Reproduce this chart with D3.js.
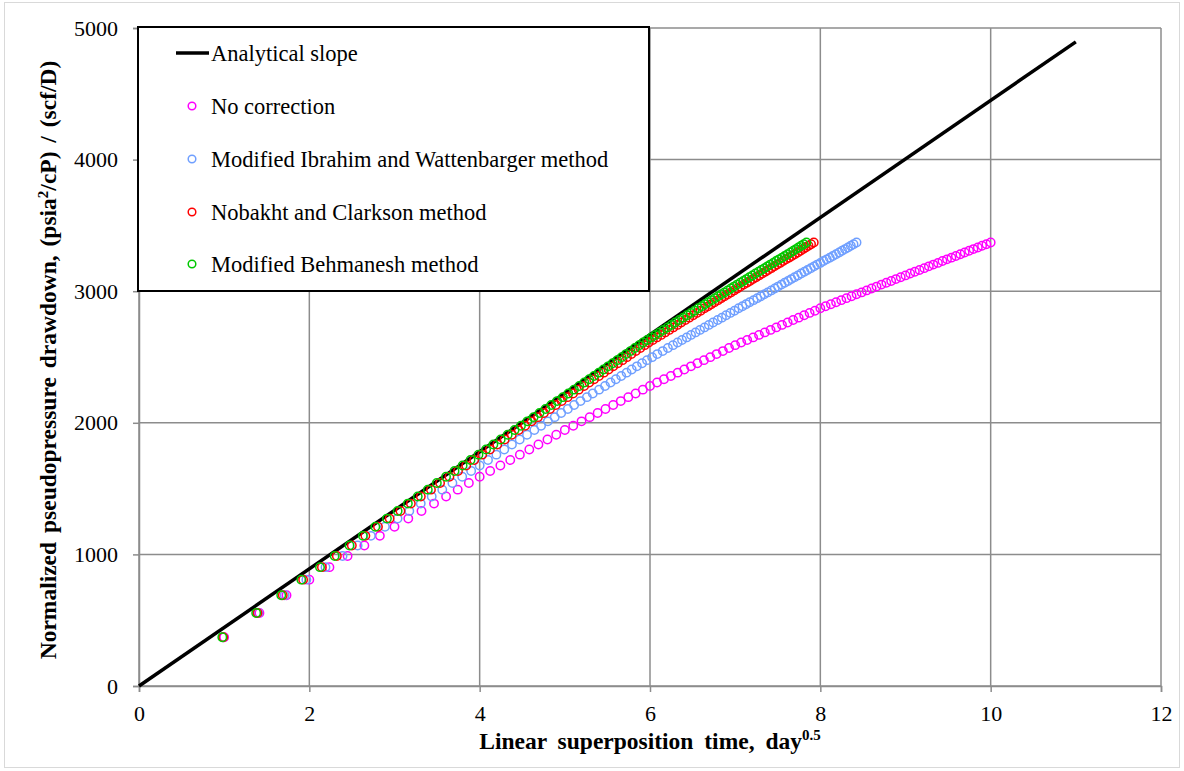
<!DOCTYPE html>
<html>
<head>
<meta charset="utf-8">
<script src="https://cdn.jsdelivr.net/npm/d3@7"></script>
<style>
  body { margin: 0; background: #fff; }
  svg text { font-family: "Liberation Serif", "Times New Roman", "DejaVu Serif", serif; }
</style>
</head>
<body>
<svg id="chart"></svg>
<script>
// Constants
const width = 1184;
const height = 771;
const margin = { top: 28, right: 23, bottom: 85, left: 139 };
const serif = "'Liberation Serif', 'Times New Roman', serif";

// Axis ticks
const xTicks = [0, 2, 4, 6, 8, 10, 12];
const yTicks = [0, 1000, 2000, 3000, 4000, 5000];

// Analytical slope line
const analyticX = [0, 11];
const analyticY = [0, 4895];

// Normalized pseudopressure drawdown, shared by every series
const drawdown = [
  370, 555, 690, 808, 903, 988, 1068, 1141, 1210, 1272,
  1330, 1386, 1440, 1492, 1542, 1590, 1634, 1676, 1717, 1758,
  1797, 1835, 1873, 1909, 1945, 1978, 2011, 2043, 2074, 2105,
  2135, 2165, 2195, 2223, 2252, 2280, 2306, 2331, 2356, 2381,
  2405, 2429, 2453, 2476, 2499, 2522, 2545, 2568, 2590, 2610,
  2629, 2649, 2668, 2687, 2706, 2725, 2744, 2762, 2781, 2799,
  2817, 2835, 2852, 2870, 2886, 2901, 2916, 2932, 2947, 2962,
  2977, 2991, 3006, 3021, 3035, 3050, 3064, 3078, 3092, 3106,
  3120, 3134, 3148, 3161, 3175, 3189, 3202, 3215, 3229, 3242,
  3255, 3268, 3281, 3294, 3307, 3320, 3332, 3345, 3357, 3370
];

// Linear superposition time for each correction
const noCorrectionX = [
  1, 1.414, 1.732, 2, 2.236, 2.449, 2.646, 2.828, 3, 3.162,
  3.317, 3.464, 3.606, 3.742, 3.873, 4, 4.123, 4.243, 4.359, 4.472,
  4.583, 4.690, 4.796, 4.899, 5, 5.099, 5.196, 5.292, 5.385, 5.477,
  5.568, 5.657, 5.745, 5.831, 5.916, 6, 6.083, 6.164, 6.245, 6.325,
  6.403, 6.481, 6.557, 6.633, 6.708, 6.782, 6.856, 6.928, 7, 7.071,
  7.141, 7.211, 7.280, 7.348, 7.416, 7.483, 7.550, 7.616, 7.681, 7.746,
  7.810, 7.874, 7.937, 8, 8.062, 8.124, 8.185, 8.246, 8.307, 8.367,
  8.426, 8.485, 8.544, 8.602, 8.660, 8.718, 8.775, 8.832, 8.888, 8.944,
  9, 9.055, 9.110, 9.165, 9.220, 9.274, 9.327, 9.381, 9.434, 9.487,
  9.539, 9.592, 9.644, 9.695, 9.747, 9.798, 9.849, 9.899, 9.950, 10
];

const ibrahimX = [
  0.990, 1.400, 1.710, 1.965, 2.190, 2.390, 2.567, 2.723, 2.888, 3.036,
  3.174, 3.308, 3.437, 3.561, 3.680, 3.795, 3.900, 4.000, 4.098, 4.196,
  4.289, 4.379, 4.470, 4.556, 4.642, 4.721, 4.801, 4.881, 4.957, 5.035,
  5.109, 5.184, 5.259, 5.328, 5.402, 5.472, 5.537, 5.599, 5.662, 5.725,
  5.785, 5.846, 5.907, 5.965, 6.025, 6.086, 6.149, 6.210, 6.270, 6.324,
  6.376, 6.431, 6.482, 6.535, 6.587, 6.640, 6.691, 6.741, 6.795, 6.844,
  6.894, 6.943, 6.992, 7.041, 7.086, 7.128, 7.170, 7.216, 7.259, 7.301,
  7.342, 7.382, 7.424, 7.465, 7.503, 7.544, 7.582, 7.621, 7.659, 7.698,
  7.736, 7.775, 7.813, 7.850, 7.888, 7.927, 7.963, 8.000, 8.038, 8.075,
  8.111, 8.147, 8.184, 8.221, 8.255, 8.290, 8.324, 8.358, 8.390, 8.425
];

const nobakhtX = [
  0.989, 1.391, 1.688, 1.927, 2.148, 2.323, 2.499, 2.658, 2.806, 2.943,
  3.070, 3.192, 3.309, 3.428, 3.535, 3.645, 3.746, 3.842, 3.936, 4.030,
  4.120, 4.207, 4.294, 4.377, 4.459, 4.534, 4.610, 4.684, 4.755, 4.826,
  4.894, 4.963, 5.032, 5.096, 5.163, 5.227, 5.287, 5.344, 5.401, 5.458,
  5.514, 5.569, 5.623, 5.677, 5.729, 5.782, 5.834, 5.887, 5.938, 5.985,
  6.033, 6.082, 6.131, 6.178, 6.226, 6.274, 6.322, 6.366, 6.415, 6.460,
  6.507, 6.551, 6.595, 6.640, 6.682, 6.719, 6.758, 6.799, 6.836, 6.875,
  6.914, 6.950, 6.988, 7.026, 7.062, 7.100, 7.138, 7.173, 7.209, 7.246,
  7.281, 7.318, 7.354, 7.387, 7.424, 7.460, 7.494, 7.528, 7.563, 7.598,
  7.632, 7.665, 7.700, 7.734, 7.767, 7.799, 7.828, 7.861, 7.891, 7.923
];

const behmaneshX = [
  0.978, 1.376, 1.670, 1.906, 2.125, 2.298, 2.472, 2.629, 2.775, 2.911,
  3.037, 3.157, 3.273, 3.391, 3.497, 3.605, 3.705, 3.800, 3.893, 3.986,
  4.075, 4.161, 4.247, 4.329, 4.410, 4.485, 4.560, 4.633, 4.703, 4.773,
  4.841, 4.909, 4.977, 5.041, 5.107, 5.170, 5.229, 5.286, 5.342, 5.399,
  5.454, 5.508, 5.562, 5.615, 5.667, 5.719, 5.771, 5.823, 5.873, 5.920,
  5.967, 6.016, 6.064, 6.111, 6.158, 6.206, 6.253, 6.297, 6.345, 6.390,
  6.436, 6.480, 6.523, 6.568, 6.609, 6.646, 6.684, 6.725, 6.762, 6.800,
  6.839, 6.874, 6.912, 6.950, 6.985, 7.023, 7.060, 7.095, 7.131, 7.167,
  7.202, 7.238, 7.274, 7.307, 7.343, 7.379, 7.412, 7.446, 7.481, 7.515,
  7.549, 7.582, 7.616, 7.650, 7.682, 7.714, 7.743, 7.775, 7.805, 7.837
];

const seriesNames = [
  "No correction",
  "Modified Ibrahim and Wattenbarger method",
  "Nobakht and Clarkson method",
  "Modified Behmanesh method"
];
const seriesColors = ["#ff00ff", "#6f9fff", "#ff0000", "#00c800"];
const seriesX = [noCorrectionX, ibrahimX, nobakhtX, behmaneshX];

// Create the SVG element
const svg = d3.select("#chart")
  .attr("width", width)
  .attr("height", height)
  .attr("font-family", serif);

// light frame round the picture
svg.append("rect")
  .attr("x", 4.5).attr("y", 2.5)
  .attr("width", 1175).attr("height", 765)
  .attr("fill", "#fff")
  .attr("stroke", "#d9d9d9");

const x = d3.scaleLinear().domain([0, 12]).range([margin.left, width - margin.right]);
const y = d3.scaleLinear().domain([0, 5000]).range([height - margin.bottom, margin.top]);

// Grid
const grid = svg.append("g").attr("stroke", "#8c8c8c").attr("stroke-width", 1.5);
grid.selectAll(".gx").data(xTicks).enter().append("line")
  .attr("x1", (d) => x(d)).attr("x2", (d) => x(d))
  .attr("y1", y(0)).attr("y2", y(5000));
grid.selectAll(".gy").data(yTicks).enter().append("line")
  .attr("x1", x(0)).attr("x2", x(12))
  .attr("y1", (d) => y(d)).attr("y2", (d) => y(d));

// Axes
const xAxis = svg.append("g")
  .attr("transform", `translate(0,${y(0)})`)
  .call(d3.axisBottom(x).tickValues(xTicks).tickSize(6).tickPadding(13).tickFormat(d3.format("d")));
const yAxis = svg.append("g")
  .attr("transform", `translate(${x(0)},0)`)
  .call(d3.axisLeft(y).tickValues(yTicks).tickSize(6).tickPadding(15).tickFormat(d3.format("d")));

[xAxis, yAxis].forEach((a) => {
  a.attr("font-family", serif);
  a.select(".domain").attr("stroke", "#8c8c8c").attr("stroke-width", 1.5);
  a.selectAll(".tick line").attr("stroke", "#8c8c8c").attr("stroke-width", 1.5);
  a.selectAll("text")
    .attr("fill", "#000")
    .style("font-size", "22px");
});

// Analytical line
const line = d3.line().x((d) => x(d[0])).y((d) => y(d[1]));
svg.append("path")
  .datum(d3.zip(analyticX, analyticY))
  .attr("d", line)
  .attr("fill", "none")
  .attr("stroke", "#000")
  .attr("stroke-width", 3.5);

// Points
seriesX.forEach((xs, s) => {
  svg.append("g").selectAll("circle")
    .data(d3.zip(xs, drawdown))
    .enter().append("circle")
    .attr("cx", (d) => x(d[0]))
    .attr("cy", (d) => y(d[1]))
    .attr("r", 4.2)
    .attr("fill", "none")
    .attr("stroke", seriesColors[s])
    .attr("stroke-width", 1.5);
});

// Legend
const legend = svg.append("g");
legend.append("rect")
  .attr("x", 138).attr("y", 27)
  .attr("width", 511).attr("height", 264)
  .attr("fill", "#fff")
  .attr("stroke", "#000")
  .attr("stroke-width", 2);

const legendRows = [53, 106, 159, 212, 264];
legend.append("line")
  .attr("x1", 176).attr("x2", 209)
  .attr("y1", legendRows[0]).attr("y2", legendRows[0])
  .attr("stroke", "#000").attr("stroke-width", 3.5);
legend.append("text")
  .attr("x", 211).attr("y", legendRows[0] + 7.5)
  .style("font-size", "22.5px")
  .text("Analytical slope");

seriesNames.forEach((name, s) => {
  const yy = legendRows[s + 1];
  legend.append("circle")
    .attr("cx", 192).attr("cy", yy)
    .attr("r", 3.8)
    .attr("fill", "none")
    .attr("stroke", seriesColors[s])
    .attr("stroke-width", 1.5);
  legend.append("text")
    .attr("x", 211).attr("y", yy + 7.5)
    .style("font-size", "22.5px")
    .text(name);
});

// Axis titles
const xTitle = svg.append("text")
  .attr("x", 650)
  .attr("y", 749)
  .attr("text-anchor", "middle")
  .style("font-size", "23.5px")
  .style("font-weight", "bold")
  .style("word-spacing", "5px");
xTitle.append("tspan").text("Linear superposition time, day");
xTitle.append("tspan").attr("dy", -9).style("font-size", "15px").text("0.5");

const yTitle = svg.append("text")
  .attr("transform", `translate(56,${(y(0) + y(5000)) / 2 + 3}) rotate(-90)`)
  .attr("text-anchor", "middle")
  .style("font-size", "23.5px")
  .style("font-weight", "bold")
  .style("word-spacing", "3px");
yTitle.append("tspan").text("Normalized pseudopressure drawdown, (psia");
yTitle.append("tspan").attr("dy", -8).style("font-size", "15px").text("2");
yTitle.append("tspan").attr("dy", 8).text("/cP) / (scf/D)");
</script>
</body>
</html>
